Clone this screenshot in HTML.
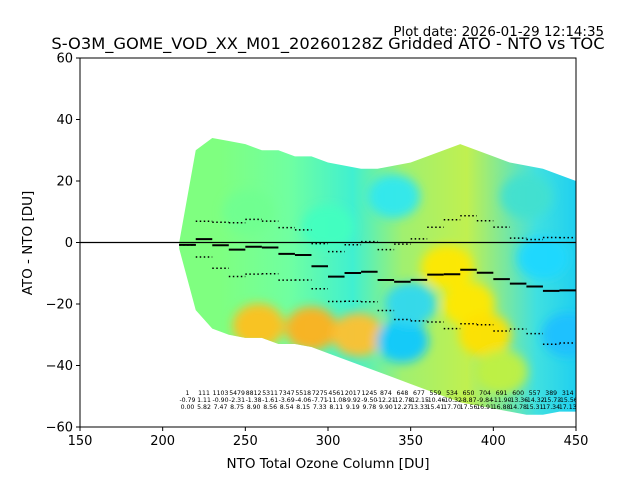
<!DOCTYPE html>
<html><head><meta charset="utf-8"><style>
html,body{margin:0;padding:0;background:#fff}
svg{display:block;font-family:"DejaVu Sans","Liberation Sans",sans-serif}
</style></head><body>
<svg id="chart" width="640" height="480" xmlns="http://www.w3.org/2000/svg">
<defs>
<linearGradient id="cloudGrad" x1="80" x2="576" y1="0" y2="0" gradientUnits="userSpaceOnUse">
<stop offset="0.28" stop-color="#7fff80"/>
<stop offset="0.42" stop-color="#70ffa0"/>
<stop offset="0.55" stop-color="#40f0d0"/>
<stop offset="0.65" stop-color="#a0f070"/>
<stop offset="0.78" stop-color="#c0f050"/>
<stop offset="0.92" stop-color="#40e0e0"/>
<stop offset="1" stop-color="#20d0f0"/>
</linearGradient>
<filter id="blur" x="-30%" y="-30%" width="160%" height="160%"><feGaussianBlur stdDeviation="5"/></filter>
<clipPath id="plotClip"><rect x="80" y="58" width="496" height="369"/></clipPath>
<clipPath id="cloudClip"><path id="cloudClipPath"/></clipPath>
</defs>
<rect x="0" y="0" width="640" height="480" fill="#fff"/>
<g id="cloudLayer" clip-path="url(#plotClip)"></g>
<g id="statsLayer" clip-path="url(#plotClip)"></g>
<g id="axesLayer"></g>
<text x="328" y="49" font-size="16.3" text-anchor="middle">S-O3M_GOME_VOD_XX_M01_20260128Z Gridded ATO - NTO vs TOC</text>
<text x="604" y="36" font-size="13.4" text-anchor="end">Plot date: 2026-01-29 12:14:35</text>
<text x="328" y="468" font-size="13.5" text-anchor="middle">NTO Total Ozone Column [DU]</text>
<text x="0" y="0" font-size="13.5" text-anchor="middle" transform="translate(32,243) rotate(-90)">ATO - NTO [DU]</text>
</svg>
<script>
const binCenters=[215,225,235,245,255,265,275,285,295,305,315,325,335,345,355,365,375,385,395,405,415,425,435,445];
const counts=[1,111,1103,5479,8812,5311,7347,5518,7275,4561,2017,1245,874,648,677,559,534,650,704,691,600,557,389,314];
const medians=[-0.79,1.11,-0.90,-2.31,-1.38,-1.61,-3.69,-4.06,-7.71,-11.08,-9.92,-9.50,-12.21,-12.78,-12.15,-10.46,-10.32,-8.87,-9.84,-11.90,-13.36,-14.32,-15.73,-15.56];
const stds=[0.00,5.82,7.47,8.75,8.90,8.56,8.54,8.15,7.33,8.11,9.19,9.78,9.90,12.27,13.33,15.41,17.70,17.56,16.91,16.88,14.78,15.31,17.34,17.13];
const envX=[210,220,230,240,250,260,270,280,290,300,310,320,330,340,350,360,370,380,390,400,410,420,430,440,450];
const envUpper=[0,30,34,33,32,30,30,28,28,26,25,24,24,25,26,28,30,32,30,28,26,25,24,22,20];
const envLower=[-2,-22,-28,-30,-31,-31,-33,-33,-34,-36,-38,-40,-42,-44,-46,-48,-50,-52,-53,-54,-55,-56,-56,-55,-55];
const xTicks=[150,200,250,300,350,400,450];
const yTicks=[-60,-40,-20,0,20,40,60];
const blobX=[258,290,318,345,385,372,395,430,445,300,340,252,405,350,420];
const blobY=[-27,-28,-30,-32,-20,-8,-30,-5,-30,5,15,10,-42,-20,15];
const blobColor=["#ffc020","#ffb020","#ffc030","#10c8ff","#ffe800","#ffe800","#ffe000","#20d8ff","#20c0ff","#40ffc0","#30e8f0","#70ff90","#c0f040","#30d8f0","#40e0d0"];

const NS="http://www.w3.org/2000/svg";
const X0=150,X1=450,PX0=80,PX1=576,Y0=-60,Y1=60,PY0=427,PY1=58;
function xs(v){return PX0+(v-X0)/(X1-X0)*(PX1-PX0);}
function ys(v){return PY0+(v-Y0)/(Y1-Y0)*(PY1-PY0);}
function mk(tag,attrs,parent){const e=document.createElementNS(NS,tag);for(const k in attrs)e.setAttribute(k,attrs[k]);parent.appendChild(e);return e;}

const cloud=document.getElementById('cloudLayer');
let d="";
envX.forEach((x,i)=>{d+=(i?"L":"M")+xs(x)+","+ys(envUpper[i]);});
for(let i=envX.length-1;i>=0;i--)d+="L"+xs(envX[i])+","+ys(envLower[i]);
d+="Z";
document.getElementById('cloudClipPath').setAttribute('d',d);
const body=mk('path',{d:d,fill:"url(#cloudGrad)"},cloud);


const blobG=mk('g',{'clip-path':'url(#cloudClip)'},cloud);
const blobInner=mk('g',{filter:'url(#blur)'},blobG);
blobX.forEach((bx,i)=>{
  const el=mk('ellipse',{cx:xs(bx),cy:ys(blobY[i]),rx:26,ry:22,fill:blobColor[i],opacity:0.95},blobInner);
  
  
});

const st=document.getElementById('statsLayer');
const zl=mk('line',{x1:PX0,x2:PX1,y1:ys(0),y2:ys(0),stroke:"#000","stroke-width":1.3},st);


binCenters.forEach((c,i)=>{
  const xa=xs(c-5),xb=xs(c+5);
  const m=mk('line',{x1:xa,x2:xb,y1:ys(medians[i]),y2:ys(medians[i]),stroke:"#000","stroke-width":2},st);
  
  
  [medians[i]+stds[i],medians[i]-stds[i]].forEach(v=>{
    const s=mk('line',{x1:xa,x2:xb,y1:ys(v),y2:ys(v),stroke:"#000","stroke-width":1.5,"stroke-dasharray":"1.5,2.5"},st);
    
    
  });
  [[counts[i].toString(),395],[medians[i].toFixed(2),402],[stds[i].toFixed(2),409]].forEach(([t,y])=>{
    const tx=mk('text',{x:xs(c),y:y,'font-size':6.2,'text-anchor':'middle',fill:"#000"},st);
    tx.textContent=t;
    
    
  });
});

const ax=document.getElementById('axesLayer');
const fr=mk('rect',{x:PX0,y:PY1,width:PX1-PX0,height:PY0-PY1,fill:"none",stroke:"#000","stroke-width":1},ax);


xTicks.forEach(v=>{
  const x=xs(v);
  mk('line',{x1:x,x2:x,y1:PY0,y2:PY0+4,stroke:"#000"},ax);
  const t=mk('text',{x:x,y:PY0+18,'font-size':13,'text-anchor':'middle'},ax);
  t.textContent=v;
  
  
});
yTicks.forEach(v=>{
  const y=ys(v);
  mk('line',{x1:PX0-4,x2:PX0,y1:y,y2:y,stroke:"#000"},ax);
  const t=mk('text',{x:PX0-7,y:y+4.5,'font-size':13,'text-anchor':'end'},ax);
  t.textContent=v===0?"0":(v<0?"\u2212"+(-v):v);
  
  
});
</script>
</body></html>
